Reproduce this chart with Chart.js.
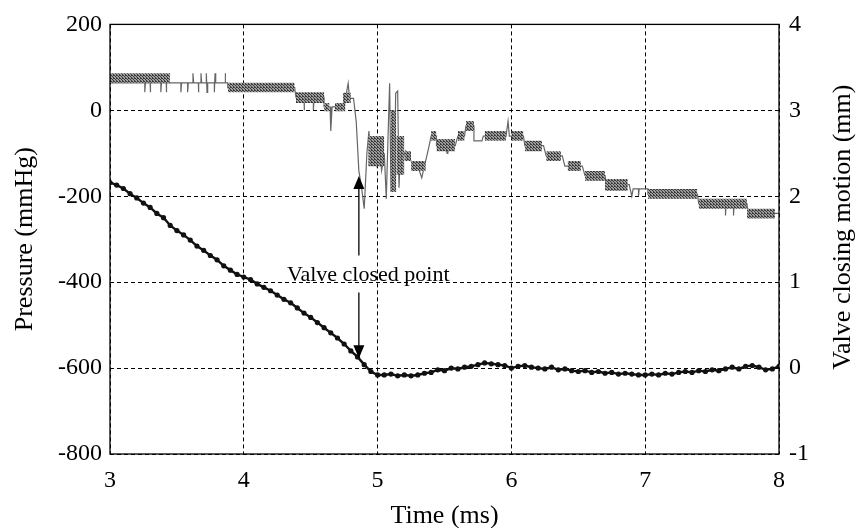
<!DOCTYPE html>
<html><head><meta charset="utf-8">
<script src="https://cdn.jsdelivr.net/npm/chart.js@4/dist/chart.umd.min.js"></script>
<style>html,body{margin:0;padding:0;background:#fff}#wrap{width:858px;height:528px}</style>
</head><body><div id="wrap"><canvas id="c" width="858" height="528"></canvas></div>
<script>
// ---- Axis ticks ----
const timeTicks = [3, 4, 5, 6, 7, 8];
const pressureTicks = [200, 0, -200, -400, -600, -800];
const motionTicks = [4, 3, 2, 1, 0, -1];

// ---- Valve closing motion (mm, right axis) ----
const valveTime = [3.00,3.05,3.10,3.15,3.20,3.25,3.30,3.35,3.40,3.45,3.50,3.55,3.60,3.65,3.70,3.75,3.80,3.85,3.90,3.95,
  4.00,4.05,4.10,4.15,4.20,4.25,4.30,4.35,4.40,4.45,4.50,4.55,4.60,4.65,4.70,4.75,4.80,4.85,4.90,4.95,
  5.00,5.05,5.10,5.15,5.20,5.25,5.30,5.35,5.40,5.45,5.50,5.55,5.60,5.65,5.70,5.75,5.80,5.85,5.90,5.95,
  6.00,6.05,6.10,6.15,6.20,6.25,6.30,6.35,6.40,6.45,6.50,6.55,6.60,6.65,6.70,6.75,6.80,6.85,6.90,6.95,
  7.00,7.05,7.10,7.15,7.20,7.25,7.30,7.35,7.40,7.45,7.50,7.55,7.60,7.65,7.70,7.75,7.80,7.85,7.90,7.95,8.00];
const valveMotion = [2.16,2.13,2.09,2.03,1.98,1.92,1.87,1.80,1.75,1.66,1.60,1.55,1.49,1.42,1.37,1.31,1.26,1.19,1.14,1.09,
  1.06,1.03,0.98,0.94,0.90,0.85,0.80,0.76,0.70,0.64,0.59,0.53,0.47,0.41,0.35,0.28,0.20,0.13,0.04,-0.04,
  -0.08,-0.08,-0.07,-0.09,-0.08,-0.09,-0.08,-0.06,-0.05,-0.02,-0.03,0.00,-0.01,0.01,0.02,0.04,0.06,0.05,0.04,0.03,
  0.00,0.02,0.03,0.01,0.00,-0.01,0.01,-0.02,-0.01,-0.03,-0.04,-0.03,-0.05,-0.04,-0.06,-0.05,-0.07,-0.06,-0.07,-0.08,
  -0.08,-0.07,-0.08,-0.06,-0.07,-0.05,-0.04,-0.05,-0.03,-0.04,-0.02,-0.03,-0.01,0.01,-0.01,0.02,0.03,0.01,-0.02,-0.01,0.02];

// ---- Pressure trace (mmHg, left axis) ----
const pressureTime = [3.00,3.26,3.26,3.265,3.30,3.30,3.305,3.38,3.38,3.385,3.42,3.42,3.425,3.53,3.53,3.535,3.58,3.58,3.585,
  3.62,3.62,3.625,3.66,3.66,3.665,3.68,3.68,3.685,3.72,3.72,3.725,3.73,3.78,3.78,3.785,3.79,3.86,3.86,3.865,3.88,3.88,
  4.38,4.39,4.45,4.45,4.455,4.52,4.52,4.525,4.60,4.60,4.645,4.65,4.66,4.75,4.76,4.78,4.79,4.82,4.84,4.86,4.88,4.90,4.92,
  4.935,4.95,4.97,4.99,5.01,5.03,5.05,5.065,5.08,5.09,5.10,5.11,5.125,5.135,5.15,5.16,5.175,5.19,5.21,5.23,5.25,5.30,
  5.33,5.35,5.38,5.40,5.44,5.44,5.50,5.52,5.525,5.58,5.60,5.65,5.66,5.72,5.72,5.78,5.79,5.96,5.975,5.985,6.09,6.10,
  6.24,6.26,6.38,6.40,6.53,6.55,6.70,6.71,6.88,6.90,6.91,6.95,6.95,6.955,7.02,7.02,7.39,7.40,7.60,7.60,7.605,7.66,
  7.66,7.665,7.76,7.77,8.00];
const pressureValue = [64,64,42,64,64,42,64,64,42,64,64,42,64,64,42,64,64,42,64,
  64,86,64,64,42,64,64,86,64,64,86,42,64,64,42,86,64,64,86,64,64,53,
  53,30,30,0,30,30,0,30,30,8,8,-48,8,8,28,63,28,28,-25,-141,-180,-229,-100,
  -48,-110,-70,-125,-80,-140,-100,-206,-40,63,-190,-20,-170,40,45,-180,-60,-110,-95,-110,-118,-130,
  -157,-130,-90,-60,-60,-82,-82,-100,-82,-82,-60,-60,-36,-36,-71,-71,-60,-60,-25,-60,-60,-82,
  -82,-106,-106,-130,-130,-152,-152,-173,-173,-200,-183,-183,-200,-183,-183,-195,-195,-217,-217,-245,-217,-217,
  -245,-217,-217,-240,-240];

// ---- Pressure noise bands (mmHg) ----
const bandStart = [3.00,3.88,4.39,4.60,4.68,4.74,4.93,5.10,5.14,5.20,5.25,5.40,5.44,5.60,5.66,5.80,6.00,6.10,6.26,6.42,6.55,6.70,7.02,7.40,7.76];
const bandEnd   = [3.45,4.38,4.60,4.64,4.76,4.80,5.05,5.14,5.20,5.25,5.36,5.44,5.58,5.65,5.72,5.96,6.09,6.23,6.37,6.52,6.70,6.87,7.39,7.76,7.97];
const bandLow   = [64,42,17,-2,-2,17,-130,-190,-150,-118,-141,-71,-95,-71,-48,-71,-71,-95,-118,-141,-164,-187,-206,-229,-252];
const bandHigh  = [86,64,42,17,17,41,-60,0,-60,-95,-118,-48,-67,-48,-25,-48,-48,-71,-95,-118,-141,-160,-183,-206,-229];

// ---- Annotation ----
const arrowTime = 4.86;
const arrowUpTip = -153, arrowUpEnd = -338;
const arrowDownStart = -424, arrowDownTip = -577;
const annotationText = 'Valve closed point';
const annotationTime = 4.93, annotationValue = -400;

const SERIF = '"Liberation Serif","Times New Roman",serif';

function makePattern() {
  const p = document.createElement('canvas');
  p.width = 3; p.height = 3;
  const g = p.getContext('2d');
  g.fillStyle = '#9c9c9c'; g.fillRect(0, 0, 3, 3);
  g.fillStyle = '#3c3c3c';
  g.fillRect(0, 0, 1, 1); g.fillRect(1, 1, 1, 1); g.fillRect(2, 2, 1, 1);
  g.fillRect(2, 0, 1, 1);
  return g.createPattern(p, 'repeat');
}
const bandPattern = makePattern();

const datasets = [];
for (let i = 0; i < bandStart.length; i++) {
  datasets.push({
    type: 'line', yAxisID: 'y',
    data: [{x: bandStart[i], y: bandHigh[i]}, {x: bandEnd[i], y: bandHigh[i]}],
    borderWidth: 0, borderColor: 'rgba(0,0,0,0)', pointRadius: 0, fill: false
  });
  datasets.push({
    type: 'line', yAxisID: 'y',
    data: [{x: bandStart[i], y: bandLow[i]}, {x: bandEnd[i], y: bandLow[i]}],
    borderWidth: 0, borderColor: 'rgba(0,0,0,0)', pointRadius: 0,
    fill: '-1', backgroundColor: bandPattern
  });
}
datasets.push({
  type: 'line', yAxisID: 'y',
  data: pressureTime.map((t, i) => ({x: t, y: pressureValue[i]})),
  borderColor: '#666', borderWidth: 1.2, pointRadius: 0, tension: 0, fill: false
});
datasets.push({
  type: 'line', yAxisID: 'y1',
  data: valveTime.map((t, i) => ({x: t, y: valveMotion[i]})),
  borderColor: '#111', borderWidth: 2.4, pointRadius: 2.6, pointBackgroundColor: '#111',
  pointBorderWidth: 0, tension: 0, fill: false
});

const framePlugin = {
  id: 'frame',
  afterDatasetsDraw(chart) {
    const {ctx, chartArea: a, scales} = chart;
    ctx.save();
    ctx.strokeStyle = '#000'; ctx.lineWidth = 1.3; ctx.setLineDash([]);
    ctx.strokeRect(a.left, a.top, a.right - a.left, a.bottom - a.top);
    const x = scales.x.getPixelForValue(arrowTime);
    const y1 = scales.y.getPixelForValue(arrowUpTip);
    const y2 = scales.y.getPixelForValue(arrowUpEnd);
    const y3 = scales.y.getPixelForValue(arrowDownStart);
    const y4 = scales.y.getPixelForValue(arrowDownTip);
    ctx.strokeStyle = '#000'; ctx.fillStyle = '#000'; ctx.lineWidth = 1.3;
    ctx.beginPath(); ctx.moveTo(x, y1 + 10); ctx.lineTo(x, y2); ctx.stroke();
    ctx.beginPath(); ctx.moveTo(x, y3); ctx.lineTo(x, y4 - 10); ctx.stroke();
    ctx.beginPath(); ctx.moveTo(x, y1); ctx.lineTo(x - 5.5, y1 + 13); ctx.lineTo(x + 5.5, y1 + 13); ctx.closePath(); ctx.fill();
    ctx.beginPath(); ctx.moveTo(x, y4); ctx.lineTo(x - 5.5, y4 - 13); ctx.lineTo(x + 5.5, y4 - 13); ctx.closePath(); ctx.fill();
    ctx.font = '22px ' + SERIF;
    ctx.textAlign = 'center'; ctx.textBaseline = 'alphabetic';
    ctx.fillText(annotationText, scales.x.getPixelForValue(annotationTime), scales.y.getPixelForValue(annotationValue) - 1);
    ctx.save();
    ctx.translate(843, (a.top + a.bottom) / 2 - 12);
    ctx.rotate(-Math.PI / 2);
    ctx.font = '26px ' + SERIF;
    ctx.textAlign = 'center'; ctx.textBaseline = 'middle';
    ctx.fillText('Valve closing motion (mm)', 0, 0);
    ctx.restore();
    ctx.restore();
  }
};

new Chart(document.getElementById('c'), {
  type: 'line',
  data: {datasets},
  options: {
    responsive: false, animation: false,
    layout: {padding: {top: 23, left: 0, right: 0, bottom: 0}},
    plugins: {legend: {display: false}, tooltip: {enabled: false}},
    scales: {
      x: {
        type: 'linear', min: 3, max: 8,
        afterFit(s) { s.height = 74; },
        afterBuildTicks(s) { s.ticks = timeTicks.map(v => ({value: v})); },
        ticks: {font: {family: SERIF, size: 24}, color: '#000', padding: 12, maxRotation: 0, autoSkip: false},
        grid: {color: '#000', lineWidth: 1, drawTicks: false},
        border: {display: false, dash: [4, 3]},
        title: {display: true, text: 'Time (ms)', color: '#000', font: {family: SERIF, size: 26, lineHeight: 0.92}, padding: {top: 0, bottom: 0}}
      },
      y: {
        type: 'linear', position: 'left', min: -800, max: 200,
        afterFit(s) { s.width = 110; },
        afterBuildTicks(s) { s.ticks = pressureTicks.map(v => ({value: v})); },
        ticks: {font: {family: SERIF, size: 24}, color: '#000', padding: 8},
        grid: {color: '#000', lineWidth: 1, drawTicks: false},
        border: {display: false, dash: [4, 3]},
        title: {display: true, text: 'Pressure (mmHg)', color: '#000', font: {family: SERIF, size: 26, lineHeight: 1}, padding: {top: 12, bottom: 0}}
      },
      y1: {
        type: 'linear', position: 'right', min: -1, max: 4,
        afterFit(s) { s.width = 79; },
        afterBuildTicks(s) { s.ticks = motionTicks.map(v => ({value: v})); },
        ticks: {font: {family: SERIF, size: 24}, color: '#000', padding: 10},
        grid: {display: false, drawTicks: false},
        border: {display: false}
      }
    }
  },
  plugins: [framePlugin]
});
</script>
</body></html>
